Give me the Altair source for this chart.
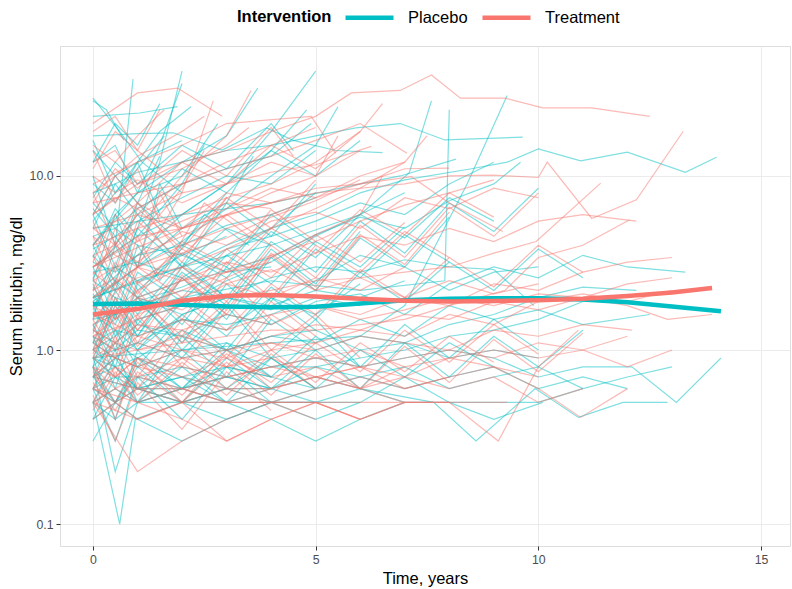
import altair as alt
import pandas as pd

groups = ["Placebo", "Treatment"]
colors = ["#00BFC4", "#F8766D"]

placebo_traj = [
    [(0,8),(0.5,9),(1,10.5),(2,12),(3,14),(4,15),(5,17),(5.9,18.9),(6.9,20),(7.9,16.1),(9.65,16.7)],
    [(0,1.2),(0.5,1.0),(1,1.1),(2,0.9),(3,1.0),(4,0.8),(5,0.9),(6,0.8),(7,0.9),(8,1.0),(9,0.9),(10,0.7),(11,0.8),(12.1,0.8),(13.1,0.5),(14.1,0.9)],
    [(0,0.7),(0.5,0.8),(1,0.6),(2,0.7),(3,0.6),(4,0.6),(5,0.7),(6,0.6),(7.65,0.5),(8.6,0.3),(9.93,0.6),(10.9,0.41),(11.9,0.5),(12.9,0.5)],
    [(0,2.0),(1,3.5),(2,6),(3,9),(4,18),(5,40)],
    [(0,28),(0.6,18),(1.1,12),(2,8)],
    [(0,1.5),(0.5,4),(0.9,36)],
    [(0,1.8),(0.5,2.5),(1,5),(1.5,12),(2.0,40)],
    [(0,4),(1,8),(1.5,15),(2.0,34)],
    [(0,22),(1.05,23),(1.9,25)],
    [(0,17),(1,17.5),(1.8,17.7),(2.9,14.1),(3.9,18.9),(4.5,16),(5.45,14),(6.5,13.6)],
    [(0,3),(1,4.5),(2,6),(3,9),(4,14),(4.8,24)],
    [(0,4),(0.5,6),(1,8),(2,12),(3,17),(3.7,32)],
    [(0,2),(2,3),(4,4),(6,6),(7.1,10.4),(7.6,27)],
    [(0,1.5),(2,2),(4,2.5),(6,2.2),(7.9,2.5),(8.0,24)],
    [(0,0.9),(2,1.0),(4,1.1),(6,1.2),(7,1.8),(8.4,9),(9.3,29)],
    [(0,2),(1,2.5),(2,3),(3,4),(4,5),(5,6),(6,8),(7,9.5),(8.5,11),(9.3,12),(10,14.3),(10.95,12.2),(12,13.7),(13.3,10.5),(14,12.8)],
    [(0,5),(2,6),(4,7),(6,9),(6.9,10),(8.15,12.5)],
    [(0,0.9),(0.5,0.8),(1,0.6),(2,0.7),(3,0.5),(4,0.5),(5,0.5),(6,0.6),(7,0.5),(8,0.5),(9,0.5),(10,0.5),(11,0.6)],
    [(0,0.5),(0.6,0.1),(0.95,0.4),(2,0.5),(3,0.6)],
    [(0,0.8),(0.5,0.2),(1,0.5),(2,0.6),(3,0.7),(4,0.6)],
    [(0,0.3),(0.5,0.5),(1,0.6),(2,0.5),(3,0.6),(4,0.5),(5,0.6)],
    [(0,1.0),(0.5,1.2),(1,1.5),(2,1.8),(3,2.5),(4,3.2),(5,4.5),(6,6),(7,8)],
    [(0,0.6),(0.5,0.7),(1,0.7),(2,0.8),(3,0.7),(4,0.8),(5,0.8),(6,0.9),(7,1.0),(8,1.2),(9,1.3),(10,1.5),(11,1.9)],
    [(0,3.2),(0.5,2.8),(1,3.5),(2,4.0),(3,5.2),(4,6.0),(5,7.5)],
    [(0,12),(0.5,15),(1,8),(2,10),(2.8,20)],
    [(0,6),(0.5,10),(1,7),(1.5,13)],
    [(0,1.1),(0.5,0.9),(1,0.8),(2,1.0),(3,1.1),(4,0.9),(5,1.0),(6,1.2),(7,1.1),(8,1.4),(9,1.6),(10,2.0),(11,2.3),(12.2,2.2)],
    [(0,0.7),(1,0.6),(2,0.5),(3,0.5),(4,0.6),(5,0.5),(6,0.5),(7,0.7),(8,0.5),(9,0.4),(10.1,0.5)],
    [(0,2.5),(0.5,2.0),(1,1.8),(2,2.2),(3,2.0),(4,2.6),(5,3.0),(6,2.8),(7,3.3),(8,3.0),(9,2.9),(9.9,1.8)],
    [(0,0.9),(0.5,1.0),(1,1.3),(2,1.2),(3,1.6),(4,1.4),(5,1.9),(6,2.1),(7,1.6),(8,2.4),(9,3.0),(10,2.6),(11,3.5),(12,3.0),(13.3,2.8)],
    [(0,4.5),(0.5,5),(1,6.5),(2,9),(3,11),(4,13),(4.9,20)],
    [(0,1.4),(0.5,1.6),(1,2.0),(2,2.5),(3,3.5),(4,5),(5,8)],
    [(0,0.5),(0.5,0.6),(1,0.5),(2,0.5),(3,0.4),(4,0.5),(5,0.4),(6,0.5)],
    [(0,2.2),(0.5,3),(1,2.5),(2,3.5),(3,2.8),(4,3.0)],
    [(0,7),(0.5,5),(1,4),(2,3.5),(3,4.5)],
    [(0,0.8),(0.5,1.1),(1,0.9),(2,1.3),(3,1.0),(4,1.2),(5,1.1),(6,1.5),(7,1.2),(8,1.8),(9,1.5),(10,1.7),(11,1.4),(12.5,1.6)],
    [(0,1.6),(0.5,1.3),(1,1.2),(2,1.5),(3,1.4),(4,1.6),(5,2.0),(6,1.8)],
    [(0,5.5),(0.5,8),(1,11),(1.6,17)],
    [(0,0.6),(0.5,0.5),(1,0.7),(2,0.6),(3,0.8),(4,0.7),(5,0.6),(6,0.7),(7,0.6),(8,0.7),(9,0.8),(10,0.6),(11,0.7),(12,0.6)],
    [(0,3.8),(0.5,4.5),(1,3.0),(2,5.0),(3,7),(3.6,13)],
    [(0,1.3),(0.5,1.1),(1,1.4),(2,1.2),(3,1.0),(4,1.2),(5,1.3),(6,1.0),(7,1.1),(8,0.9),(9,1.0),(10,0.9)],
    [(0,9),(0.5,7),(1,12),(1.5,18),(2.2,25)],
    [(0,0.4),(0.5,0.5),(1,0.4),(2,0.3),(3,0.4),(4,0.5),(5,0.5)],
    [(0,2.8),(1,3.2),(2,2.6),(3,3.8),(4,4.5),(5,5.5),(6,7),(7,6),(8,9),(9,12)],
    [(0,0.9),(0.5,0.7),(1,0.6),(2,0.6),(3,0.7),(4,0.6),(5,0.8),(6,0.7),(7,0.8),(8,0.6),(9,0.7),(10,0.8),(11,0.6),(12,0.7),(13,0.8)],
    [(0,1.9),(0.5,2.4),(1,3.0),(2,4.2),(3,6.5),(4,10),(5,15),(5.5,25)],
    [(0,14),(0.5,10),(1,12),(2,16)],
    [(0,1.1),(0.5,1.3),(1,1.0),(2,1.6),(3,2.0),(4,1.7),(5,2.5),(6,3.5),(7,3.0),(8,2.2),(9,2.8),(10,3.0)],
    [(0,0.7),(0.5,0.9),(1,1.1),(2,1.5),(3,1.3),(4,2.0),(5,1.6),(6,2.4)],
    [(0,6.5),(0.5,4.5),(1,5.5),(2,7.5),(3,10),(4,9),(5,14)],
    [(0,0.5),(0.5,0.4),(1,0.5),(2,0.6),(3,0.5),(4,0.4),(5,0.3),(6,0.4),(7,0.5)],
    [(0,2.0),(0.5,1.6),(1,1.9),(2,2.3),(3,2.9),(4,3.4),(5,4.6),(6,5.8),(7,5.0),(8,7.2),(9,9.0),(9.6,12)],
    [(0,27),(0.3,24),(0.7,16)],
    [(0,1.0),(0.5,0.8),(1,0.9),(2,0.7),(3,0.8),(4,0.7)],
    [(0,3.5),(0.5,2.5),(1,2.0),(2,1.6),(3,2.0),(4,1.8),(5,2.2),(6,2.0),(7,2.5)],
    [(0,2.5),(0.5,6),(1,3),(1.5,9),(2,5)],
    [(0,0.8),(0.5,2),(1,1.2),(2,3),(3,2)],
    [(0,10),(0.5,4),(1,6),(2,3),(3,5),(4,4)],
    [(0,1.2),(0.5,0.6),(1,1.5),(2,0.9),(3,1.8)],
    [(0,3),(0.5,1.5),(1,4),(1.5,2.5),(2.5,6),(3.5,4)],
    [(0,0.6),(0.5,1.0),(1,0.5),(2,1.2),(3,0.7),(4,1.5),(5,1.0)],
    [(0,5),(0.5,9),(1,6),(2,11),(3,8),(4,14),(5,10),(6,16)],
    [(0,1.6),(0.5,3),(1,2),(2,4),(3,3),(4,6),(5,4)],
    [(0,0.9),(0.5,0.4),(1,1.0),(2,0.6),(3,1.1),(4,0.7)],
    [(0,16),(0.5,8),(1,12),(1.5,6)],
    [(0,2.1),(0.5,1.4),(1,2.8),(2,1.9),(3,3.5),(4,2.4),(5,4.2),(6,3.0),(7,5.1)],
    [(0,0.7),(0.5,1.3),(1,0.8),(2,1.6),(3,1.0),(4,2.0),(5,1.3)],
    [(0,4),(0.5,2.2),(1,5),(2,3),(3,7),(4,4.5),(5,9)],
    [(0,1.0),(0.5,1.8),(1,1.2),(2,2.6),(3,1.5),(4,3.4),(5,2.2),(6,4.4),(7,3.0),(8,5.8)],
    [(0,0.5),(0.5,0.9),(1,0.6),(2,1.0),(3,0.6),(4,0.9),(5,0.6),(6,1.0),(7,0.7),(8,1.1),(9,0.8)],
    [(0,7.5),(0.5,12),(1,9),(2,15),(3,11),(4,20),(4.5,14)],
    [(0,1.4),(0.5,0.8),(1,1.9),(2,1.1),(3,2.4),(4,1.4)],
    [(0,2.6),(0.5,4),(1,2.2),(2,3.6),(3,2.6),(4,4.8),(5,3.4),(6,6),(7,4.4),(8,7.5),(9,5.5)],
    [(0,0.6),(0.5,0.3),(1,0.7),(2,0.4),(3,0.8),(4,0.5)],
    [(0,3.4),(0.5,6.5),(1,4.5),(2,9),(2.5,15)],
    [(0,1.1),(0.5,2.2),(1,1.4),(2,2.8),(3,1.8),(4,3.8),(5,2.4),(6,4.8)],
    [(0,0.8),(0.5,0.5),(1,0.9),(2,0.6),(3,1.0),(4,0.7),(5,1.2),(6,0.8),(7,1.4),(8,0.9),(9,1.5),(10,1.0)],
    [(0,12),(0.5,20),(1,15),(1.5,26)],
    [(0,1.8),(0.5,1.0),(1,2.4),(2,1.4),(3,3.0),(4,1.9),(5,3.8),(6,2.6),(7,4.6),(8,3.2)],
    [(0,0.4),(0.5,0.7),(1,0.5),(2,0.8),(3,0.5),(4,0.9),(5,0.6)],
    [(0,6),(0.5,3),(1,7),(2,4),(3,8)],
    [(0,1.3),(0.5,2.5),(1,1.6),(2,3.2),(3,2.0),(4,4.2),(5,2.8),(6,5.5),(7,3.6),(8,7),(9,4.8),(10,8.5)],
    [(0,0.9),(0.5,1.6),(1,1.0),(2,1.9),(3,1.2),(4,2.3),(5,1.5),(6,2.8),(7,1.9),(8,3.2),(9,2.2),(10,3.8),(11,2.6)],
    [(0,2.4),(0.5,1.2),(1,2.0),(2,1.0),(3,1.8),(4,0.9),(5,1.5),(6,0.8)],
    [(0,0.7),(0.5,0.5),(1,0.8),(2,0.5),(3,0.9),(4,0.6),(5,1.0),(6,0.6),(7,1.1),(8,0.7),(9,1.2),(10,0.8),(11,1.3)],
]

treatment_traj = [
    [(0,20),(1.0,30),(1.9,32),(2.9,22)],
    [(0,6),(1,9),(2,12),(3,14),(4,18),(5,22),(5.8,30),(6.9,31),(7.6,38),(8.25,28),(9.25,28),(10.1,24.6),(11.2,24.6),(12.5,22)],
    [(0,3),(1,4.5),(2,5),(3,6),(4,7),(5,8),(6,8.5),(7,9),(8,10),(9,10.1),(10,9.8),(10.2,12),(11.2,5.7),(12.2,7.3),(13.25,18)],
    [(0,1.2),(1,1.5),(2,1.8),(3,2.0),(4,2.2),(5,2.5),(6,2.6),(7,2.8),(8,3.0),(9,3.6),(9.95,4.2),(11.4,9.1)],
    [(0,0.9),(1,1.0),(2,1.1),(3,1.2),(4,1.3),(5,1.3),(6,1.4),(7,1.5),(8,1.8),(9.25,2.2),(10,3.4),(11,4.0),(12.05,5.6)],
    [(0,1.5),(1,3),(2,8),(2.7,27)],
    [(0,3),(1,5),(2,10),(3,17),(3.55,31)],
    [(0,4),(1,5),(2,6),(3,7.5),(4,9),(5,12),(6,18),(6.5,26)],
    [(0,9),(1,12),(2,15),(3,20),(4.9,22),(5.45,13.5)],
    [(0,7),(1,8),(2,9),(3,11),(4,13),(5,16),(6,20),(7.05,13.5)],
    [(0,5),(1,6),(2,8),(3,9),(4,10.5),(5,11.6),(6.25,14.8)],
    [(0,2),(1,3),(2,4),(3,5),(4,6),(5,7.5),(6,9),(7,11),(8,11.1)],
    [(0,3),(2,5),(4,7),(5,8.5),(6,9),(7.15,9.9),(8,7),(9.2,4.8)],
    [(0,0.5),(1,0.2),(2,0.3),(3,0.4),(4,0.5),(5,0.4)],
    [(0,0.6),(0.5,0.5),(1,0.6),(2,0.5),(3,0.5),(4,0.5),(5,0.5),(6,0.5),(7,0.5),(8,0.5),(9.3,0.5)],
    [(0,1.0),(0.5,0.9),(1,0.8),(2,0.7),(3,0.6),(4,0.6),(5,0.7),(6,0.6),(7,0.5),(8,0.5),(9.1,0.3),(10,0.8),(10.9,1.3)],
    [(0,0.8),(0.5,0.7),(1,0.9),(2,0.8),(3,0.7),(4,0.8),(5,0.9),(6,0.8),(7,0.7),(8,0.9),(9,0.8),(10,0.6),(10.95,0.41),(12,0.6)],
    [(0,1.6),(0.5,1.4),(1,1.2),(2,1.5),(3,1.3),(4,1.6),(5,1.8),(6,1.5),(7,1.7),(8,2.0),(9,1.8),(10,2.1),(11,2.0),(12,1.8),(12.9,1.5),(13.9,1.6)],
    [(0,0.7),(1,0.6),(2,0.6),(3,0.5),(4,0.5),(5,0.5),(6,0.4),(7,0.5),(8,0.5)],
    [(0,1.2),(0.5,1.5),(1,1.8),(2,2.2),(3,2.8),(4,3.5),(5,4.2),(6,5.5),(7,6.8),(8,8),(9,9.5)],
    [(0,2.5),(0.5,3),(1,3.5),(2,4.5),(3,6),(4,8),(5,10),(5.5,17)],
    [(0,0.9),(0.5,1.1),(1,1.0),(2,1.2),(3,1.0),(4,1.1),(5,1.0),(6,1.2),(7,1.1),(8,1.0),(9,1.3),(10,1.2),(11,1.4),(12.1,1.3)],
    [(0,5),(0.5,4),(1,6),(2,5),(3,8),(4,7)],
    [(0,12),(0.5,14),(1,9),(2,11),(3,15),(3.5,19)],
    [(0,0.6),(0.5,0.8),(1,0.7),(2,0.9),(3,0.8),(4,1.0),(5,1.1),(6,1.3),(7,1.2),(8,1.6),(9,1.4),(10,1.9),(11,2.1),(12,1.9),(13,2.2)],
    [(0,1.8),(0.5,1.5),(1,2.0),(2,1.7),(3,2.4),(4,2.0),(5,2.6),(6,2.2),(7,3.0)],
    [(0,3.5),(0.5,4),(1,3.2),(2,4.8),(3,4.0),(4,5.5),(5,6.2),(6,5.0),(7,7.5),(8,6.5),(9,8.5),(10,7.5)],
    [(0,0.4),(0.5,0.5),(1,0.4),(2,0.5),(3,0.3),(4,0.4),(5,0.5),(6,0.4)],
    [(0,1.1),(0.5,0.9),(1,1.2),(2,1.0),(3,0.8),(4,0.9),(5,0.7),(6,0.8),(7,0.6),(8,0.7)],
    [(0,8),(0.5,10),(1,13),(2,18),(2.5,22)],
    [(0,2.2),(0.5,2.6),(1,2.0),(2,2.5),(3,3.2),(4,2.8),(5,3.6),(6,4.5),(7,4.0),(8,5.0),(9,4.2),(10,5.5),(11,6.0),(12.2,5.5)],
    [(0,0.8),(0.5,0.6),(1,0.5),(2,0.6),(3,0.5),(4,0.6),(5,0.7),(6,0.6),(7,0.7),(8,0.6),(9,0.7),(10,0.5),(11,0.6)],
    [(0,15),(0.5,12),(1,17),(1.6,24)],
    [(0,1.4),(0.5,1.7),(1,2.2),(2,3.0),(3,3.8),(4,5.0),(5,6.5),(6,8.5),(7,12),(7.5,17)],
    [(0,4.5),(0.5,3.5),(1,3.0),(2,2.5),(3,2.8),(4,3.2)],
    [(0,0.7),(0.5,0.9),(1,0.8),(2,1.0),(3,0.9),(4,1.1),(5,0.9),(6,1.0),(7,0.8),(8,0.9),(9,1.0),(10,0.9),(11,1.0),(12,0.8),(13,1.0)],
    [(0,2.8),(0.5,2.2),(1,2.6),(2,3.0),(3,2.4),(4,2.9),(5,2.2),(6,2.6),(7,2.0),(8,2.5),(9,2.1),(10,2.4)],
    [(0,6),(0.5,7.5),(1,6.5),(2,9),(3,12),(4,15),(5,19)],
    [(0,0.5),(0.5,0.6),(1,0.7),(2,0.6),(3,0.7),(4,0.8),(5,0.7),(6,0.8),(7,0.9),(8,1.0),(9,0.9),(10,1.1),(11,1.0),(12,1.2)],
    [(0,1.0),(0.5,1.3),(1,1.6),(2,2.0),(3,2.6),(4,3.4),(5,4.6),(6,6.0),(6.5,10)],
    [(0,3.0),(0.5,3.6),(1,4.2),(2,5.5),(3,7),(4,6.5)],
    [(0,0.6),(1,0.5),(2,0.4),(3,0.3),(4,0.4),(5,0.5),(6,0.4),(7,0.5)],
    [(0,10),(0.5,8),(1,9.5),(2,7),(3,9),(4,12),(5,10),(6,14)],
    [(0,1.3),(0.5,1.1),(1,1.4),(2,1.3),(3,1.6),(4,1.4),(5,1.8),(6,1.6),(7,2.0),(8,1.8),(9,2.4),(10,2.2),(11,2.8),(12,3.2),(13,3.4)],
    [(0,18),(0.5,22),(1,14),(1.5,11)],
    [(0,0.9),(0.5,0.7),(1,0.9),(2,0.7),(3,0.9),(4,0.7),(5,0.8),(6,0.6),(7,0.8)],
    [(0,2.0),(0.5,2.4),(1,3.0),(2,3.6),(3,4.4),(4,5.8),(5,7.2),(6,9.5)],
    [(0,0.5),(0.5,0.45),(1,0.4),(2,0.5),(3,0.6),(4,0.5),(5,0.6),(6,0.7),(7,0.6),(8,0.7),(9,0.8),(10,0.7)],
    [(0,4),(0.5,5.5),(1,7),(2,5),(3,6.5),(4,8.5),(5,7.5),(6,10),(7,12)],
    [(0,1.2),(0.5,1.0),(1,1.1),(2,0.9),(3,1.0),(4,1.2),(5,1.4),(6,1.3),(7,1.6),(8,1.5),(9,1.9),(10,1.7),(11,2.0),(12,2.4),(13,2.6)],
    [(0,2.2),(0.5,5),(1,3),(1.5,8),(2,4.5)],
    [(0,0.9),(0.5,1.8),(1,1.1),(2,2.6),(3,1.6)],
    [(0,8),(0.5,4),(1,7),(2,3.5),(3,6),(4,4)],
    [(0,1.4),(0.5,0.7),(1,1.6),(2,0.8),(3,1.7)],
    [(0,3.5),(0.5,1.8),(1,4.5),(1.5,2.6),(2.5,7),(3.5,4.5)],
    [(0,0.7),(0.5,1.1),(1,0.6),(2,1.3),(3,0.8),(4,1.6),(5,1.1)],
    [(0,6),(0.5,10),(1,7),(2,12),(3,9),(4,15),(5,11),(6,18)],
    [(0,1.7),(0.5,3.2),(1,2.1),(2,4.2),(3,3.1),(4,6.4),(5,4.2)],
    [(0,0.8),(0.5,0.4),(1,0.9),(2,0.5),(3,1.0),(4,0.6)],
    [(0,14),(0.5,7),(1,11),(1.5,5.5)],
    [(0,2.3),(0.5,1.5),(1,3.0),(2,2.0),(3,3.8),(4,2.6),(5,4.6),(6,3.2),(7,5.4)],
    [(0,0.6),(0.5,1.2),(1,0.7),(2,1.5),(3,0.9),(4,1.9),(5,1.2)],
    [(0,4.5),(0.5,2.4),(1,5.5),(2,3.2),(3,7.5),(4,5),(5,9.5)],
    [(0,1.1),(0.5,1.9),(1,1.3),(2,2.7),(3,1.6),(4,3.6),(5,2.3),(6,4.6),(7,3.1),(8,6.2)],
    [(0,0.5),(0.5,0.8),(1,0.55),(2,0.9),(3,0.6),(4,1.0),(5,0.65),(6,1.1),(7,0.75),(8,1.2),(9,0.85)],
    [(0,7),(0.5,11),(1,8.5),(2,14),(3,10),(4,19),(4.5,13)],
    [(0,1.5),(0.5,0.9),(1,2.0),(2,1.2),(3,2.6),(4,1.5)],
    [(0,2.7),(0.5,4.2),(1,2.4),(2,3.8),(3,2.8),(4,5),(5,3.6),(6,6.4),(7,4.6),(8,8),(9,5.8)],
    [(0,0.55),(0.5,0.3),(1,0.65),(2,0.35),(3,0.75),(4,0.45)],
    [(0,3.2),(0.5,6),(1,4.2),(2,8.5),(2.5,14)],
    [(0,1.0),(0.5,2.0),(1,1.3),(2,2.6),(3,1.7),(4,3.5),(5,2.2),(6,4.5)],
    [(0,0.75),(0.5,0.5),(1,0.85),(2,0.55),(3,0.95),(4,0.65),(5,1.1),(6,0.75),(7,1.3),(8,0.85),(9,1.4),(10,0.95)],
    [(0,11),(0.5,18),(1,14),(1.5,24)],
    [(0,1.9),(0.5,1.1),(1,2.5),(2,1.5),(3,3.2),(4,2.0),(5,4.0),(6,2.8),(7,4.8),(8,3.4)],
    [(0,0.45),(0.5,0.75),(1,0.5),(2,0.85),(3,0.55),(4,0.95),(5,0.6)],
    [(0,5.5),(0.5,2.8),(1,6.5),(2,3.8),(3,7.5)],
    [(0,1.25),(0.5,2.4),(1,1.5),(2,3.0),(3,1.9),(4,4.0),(5,2.6),(6,5.2),(7,3.4),(8,6.6),(9,4.5),(10,8)],
    [(0,0.95),(0.5,1.7),(1,1.05),(2,2.0),(3,1.3),(4,2.4),(5,1.6),(6,2.9),(7,2.0),(8,3.4),(9,2.3),(10,4.0),(11,2.8)],
    [(0,2.6),(0.5,1.3),(1,2.2),(2,1.1),(3,1.9),(4,1.0),(5,1.6),(6,0.9)],
    [(0,0.65),(0.5,0.45),(1,0.75),(2,0.5),(3,0.85),(4,0.55),(5,0.95),(6,0.6),(7,1.05),(8,0.65),(9,1.15),(10,0.75),(11,1.25)],
]

smooth_time = [0, 1, 2, 3, 4, 5, 6, 7, 8, 9, 10, 11, 12, 13, 14.1]
smooth_placebo = [1.84, 1.85, 1.82, 1.78, 1.76, 1.77, 1.85, 1.93, 1.97, 1.98, 1.98, 1.95, 1.88, 1.78, 1.67]
smooth_treat_time = [0, 1, 2, 3, 4, 5, 6, 7, 8, 9, 10, 11, 12, 13, 13.9]
smooth_treatment = [1.60, 1.72, 1.92, 2.05, 2.07, 2.03, 1.97, 1.92, 1.90, 1.91, 1.93, 1.97, 2.04, 2.14, 2.27]

rows = []
pid = 0
for grp, trajs in (("Placebo", placebo_traj), ("Treatment", treatment_traj)):
    for tr in trajs:
        pid += 1
        for t, v in tr:
            rows.append({"id": pid, "group": grp, "time": t, "value": v})
df = pd.DataFrame(rows)

srows = [{"group": "Placebo", "time": t, "value": v} for t, v in zip(smooth_time, smooth_placebo)]
srows += [{"group": "Treatment", "time": t, "value": v} for t, v in zip(smooth_treat_time, smooth_treatment)]
sdf = pd.DataFrame(srows)

FONT = "Liberation Sans"

xenc = alt.X("time:Q", title="Time, years",
             scale=alt.Scale(domain=[-0.74, 15.65], nice=False, zero=False),
             axis=alt.Axis(values=[0, 5, 10, 15], format="d", grid=True, gridColor="#EBEBEB",
                           domain=False, tickColor="#333333", tickSize=4, labelColor="#4D4D4D",
                           labelFontSize=12.3, labelPadding=3, titleFontSize=16.5, titleColor="#000000",
                           titleFontWeight="normal", titlePadding=5))
yenc = alt.Y("value:Q", title="Serum bilirubin, mg/dl",
             scale=alt.Scale(type="log", domain=[0.0748, 55.8], nice=False),
             axis=alt.Axis(values=[0.1, 1, 10], format=".1f", grid=True, gridColor="#EBEBEB",
                           domain=False, tickColor="#333333", tickSize=4, labelColor="#4D4D4D",
                           labelFontSize=12.3, labelPadding=3, titleFontSize=16.5, titleColor="#000000",
                           titleFontWeight="normal", titlePadding=5))
cscale = alt.Scale(domain=groups, range=colors)

lines = alt.Chart(df).mark_line(strokeWidth=1.2, opacity=0.5).encode(
    x=xenc, y=yenc,
    color=alt.Color("group:N", scale=cscale, title="Intervention",
                    legend=alt.Legend(orient="none", legendX=177, legendY=-55, direction="horizontal",
                                      titleOrient="left", titleBaseline="top",
                                      symbolType="stroke", symbolStrokeWidth=4.5,
                                      symbolSize=2304, symbolOpacity=1, titleFontSize=16.5,
                                      titleFontWeight="bold", labelFontSize=16.5, titleColor="#000000",
                                      labelColor="#000000", titlePadding=11, labelOffset=12,
                                      columnPadding=5)),
    detail="id:N",
)
smooth = alt.Chart(sdf).mark_line(strokeWidth=4.5).encode(
    x="time:Q", y="value:Q", color=alt.Color("group:N", scale=cscale))

chart = alt.layer(lines, smooth).properties(
    width=730, height=500,
    autosize=alt.AutoSizeParams(type="none"),
    padding={"left": 60, "top": 46, "right": 2, "bottom": 43},
).configure_view(stroke="#333333", strokeWidth=1.2).configure(font=FONT).configure_axis(
    labelFont=FONT, titleFont=FONT).configure_legend(labelFont=FONT, titleFont=FONT)

chart.save("out.html", embed_options={"renderer": "svg", "actions": False})
